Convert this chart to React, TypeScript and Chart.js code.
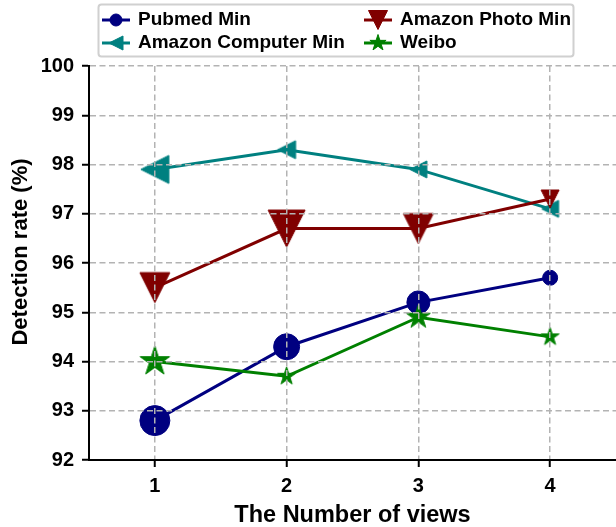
import { useEffect, useRef } from "react";
import { Chart, registerables } from "chart.js";

Chart.register(...registerables);

// Number of views on the x axis
const views = [1, 2, 3, 4];

// Detection rate (%) per dataset
const pubmedMin = [92.8, 94.3, 95.2, 95.7];
const amazonComputerMin = [97.9, 98.3, 97.9, 97.1];
const amazonPhotoMin = [95.5, 96.7, 96.7, 97.3];
const weibo = [94.0, 93.7, 94.9, 94.5];

const yMin = 92;
const yMax = 100;

const xTitle = "The Number of views";
const yTitle = "Detection rate (%)";

// Marker sizes per point (px)
const pubmedRadius = [15, 13, 11.5, 7.5];
const computerSize = [28, 18, 17, 17];
const photoSize = [30, 37, 30, 18];
const weiboDiameter = [31, 19, 25, 19];

const NAVY = "#000080";
const TEAL = "#008080";
const MAROON = "#800000";
const GREEN = "#008000";
const GRID = "#b3b3b3";
const FONT = "'Liberation Sans', Arial, sans-serif";

type Shape = "circle" | "left" | "down" | "star";

function tracePath(ctx: CanvasRenderingContext2D, shape: Shape, cx: number, cy: number, size: number) {
  const h = size / 2;
  ctx.beginPath();
  if (shape === "circle") {
    ctx.arc(cx, cy, h, 0, Math.PI * 2);
  } else if (shape === "left") {
    ctx.moveTo(cx - h, cy);
    ctx.lineTo(cx + h, cy - h);
    ctx.lineTo(cx + h, cy + h);
  } else if (shape === "down") {
    ctx.moveTo(cx, cy + h);
    ctx.lineTo(cx - h, cy - h);
    ctx.lineTo(cx + h, cy - h);
  } else {
    const R = h;
    const r = R * 0.381966;
    for (let i = 0; i < 10; i++) {
      const a = -Math.PI / 2 + (i * Math.PI) / 5;
      const rad = i % 2 === 0 ? R : r;
      const px = cx + Math.cos(a) * rad;
      const py = cy + Math.sin(a) * rad;
      if (i === 0) ctx.moveTo(px, py);
      else ctx.lineTo(px, py);
    }
  }
  ctx.closePath();
}

function drawMarker(ctx: CanvasRenderingContext2D, shape: Shape, cx: number, cy: number, size: number, color: string) {
  tracePath(ctx, shape, cx, cy, size);
  ctx.fillStyle = color;
  ctx.fill();
  ctx.lineWidth = 1;
  ctx.strokeStyle = color;
  ctx.lineJoin = "miter";
  ctx.stroke();
}

// Point style image for a filled marker of the given outer size
function markerImage(shape: Shape, size: number, color: string): HTMLCanvasElement {
  const dim = Math.ceil(size) + 4;
  const c = document.createElement("canvas");
  c.width = dim;
  c.height = dim;
  const ctx = c.getContext("2d")!;
  drawMarker(ctx, shape, dim / 2, dim / 2, size, color);
  return c;
}

const legendItems: { label: string; color: string; shape: Shape; size: number; col: number; row: number }[] = [
  { label: "Pubmed Min", color: NAVY, shape: "circle", size: 12, col: 0, row: 0 },
  { label: "Amazon Computer Min", color: TEAL, shape: "left", size: 14, col: 0, row: 1 },
  { label: "Amazon Photo Min", color: MAROON, shape: "down", size: 19, col: 1, row: 0 },
  { label: "Weibo", color: GREEN, shape: "star", size: 17, col: 1, row: 1 },
];

// Two-column legend box plus the rotated y-axis title
const overlayPlugin = {
  id: "gridLegend",
  afterDraw(chart: Chart) {
    const ctx = chart.ctx;
    ctx.save();
    ctx.beginPath();
    ctx.roundRect(98.5, 4.5, 475, 52, 3);
    ctx.fillStyle = "#ffffff";
    ctx.fill();
    ctx.lineWidth = 2;
    ctx.strokeStyle = "#d0d0d0";
    ctx.stroke();
    const colX = [102, 364];
    const rowY = [20, 43];
    for (const item of legendItems) {
      const x0 = colX[item.col];
      const y = rowY[item.row];
      ctx.beginPath();
      ctx.moveTo(x0, y);
      ctx.lineTo(x0 + 28, y);
      ctx.lineWidth = 3;
      ctx.strokeStyle = item.color;
      ctx.stroke();
      drawMarker(ctx, item.shape, x0 + 14, y, item.size, item.color);
      ctx.fillStyle = "#000000";
      ctx.font = `bold 19px ${FONT}`;
      ctx.textBaseline = "middle";
      ctx.textAlign = "left";
      ctx.fillText(item.label, x0 + 36, y);
    }

    const area = chart.chartArea;
    ctx.translate(21, (area.top + area.bottom) / 2 - 11);
    ctx.rotate(-Math.PI / 2);
    ctx.font = `bold 22px ${FONT}`;
    ctx.fillStyle = "#000000";
    ctx.textAlign = "center";
    ctx.textBaseline = "middle";
    ctx.fillText(yTitle, 0, 0);
    ctx.restore();
  },
};

function series(
  label: string,
  values: number[],
  color: string,
  pointStyle: (string | HTMLCanvasElement)[],
  pointRadius: number[]
) {
  return {
    label,
    data: views.map((x, i) => ({ x, y: values[i] })),
    borderColor: color,
    backgroundColor: color,
    borderWidth: 3,
    pointStyle,
    pointRadius,
    pointBorderWidth: 1,
    pointBorderColor: color,
    pointBackgroundColor: color,
    tension: 0,
    fill: false,
  };
}

export default function App() {
  const canvasRef = useRef<HTMLCanvasElement | null>(null);

  useEffect(() => {
    if (!canvasRef.current) return;
    const tickFont = { family: FONT, size: 20, weight: "bold" as const };
    const titleFont = { family: FONT, size: 23.5, weight: "bold" as const, lineHeight: 1 };

    // Datasets listed last-to-first so that Pubmed is drawn first and Weibo on top
    const datasets = [
      series("Weibo", weibo, GREEN, weiboDiameter.map((s) => markerImage("star", s, GREEN)), [10, 10, 10, 10]),
      series("Amazon Photo Min", amazonPhotoMin, MAROON, photoSize.map((s) => markerImage("down", s, MAROON)), [10, 10, 10, 10]),
      series("Amazon Computer Min", amazonComputerMin, TEAL, computerSize.map((s) => markerImage("left", s, TEAL)), [10, 10, 10, 10]),
      series("Pubmed Min", pubmedMin, NAVY, views.map(() => "circle"), pubmedRadius),
    ];

    const chart = new Chart(canvasRef.current, {
      type: "line",
      data: { datasets: datasets as any },
      options: {
        responsive: false,
        animation: false,
        layout: { autoPadding: false, padding: { top: 66, left: 0, right: 0, bottom: 0 } },
        plugins: { legend: { display: false }, tooltip: { enabled: false } },
        scales: {
          x: {
            type: "linear",
            min: 0.5,
            max: 4.5,
            afterBuildTicks: (s: any) => {
              s.ticks = views.map((v) => ({ value: v }));
            },
            afterFit: (s: any) => {
              s.height = 67;
              s.paddingLeft = 0;
              s.paddingRight = 0;
            },
            ticks: { color: "#000", font: tickFont, padding: 7, callback: (v: any) => String(v) },
            grid: { color: GRID, lineWidth: 1.5, z: 1, tickLength: 7, tickColor: "#000", tickWidth: 2 },
            border: { display: true, color: "#000", width: 2, dash: [6, 3.5], z: 2 },
            title: { display: true, text: xTitle, color: "#000", font: titleFont, padding: { top: 0, bottom: 0 } },
          },
          y: {
            type: "linear",
            min: yMin,
            max: yMax,
            afterFit: (s: any) => {
              s.width = 89;
              s.paddingTop = 0;
              s.paddingBottom = 0;
            },
            ticks: { stepSize: 1, color: "#000", font: tickFont, padding: 8 },
            grid: { color: GRID, lineWidth: 1.5, z: 1, tickLength: 7, tickColor: "#000", tickWidth: 2 },
            border: { display: true, color: "#000", width: 2, dash: [6, 3.5], z: 2 },
            title: { display: false },
          },
        },
      },
      plugins: [overlayPlugin],
    });
    return () => chart.destroy();
  }, []);

  return (
    <div style={{ position: "fixed", left: 0, top: 0, width: 616, height: 527, overflow: "hidden", background: "#fff" }}>
      <canvas ref={canvasRef} width={616} height={527} style={{ display: "block" }} />
    </div>
  );
}
